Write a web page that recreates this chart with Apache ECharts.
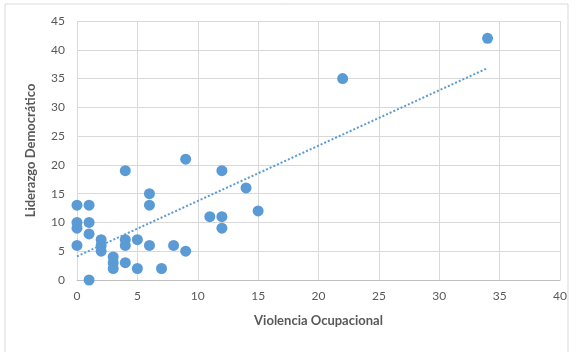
<!DOCTYPE html>
<html>
<head>
<meta charset="utf-8">
<script src="https://cdn.jsdelivr.net/npm/echarts@6/dist/echarts.min.js"></script>
<style>html,body{margin:0;padding:0;background:#fff;}#c{width:577px;height:352px;}</style>
</head>
<body>
<div id="c"></div>
<script>
var xValues = [0,1,0,0,1,1,0,1,2,2,2,3,3,3,4,4,4,4,5,5,6,6,6,7,8,9,9,11,12,12,12,14,15,22,34];
var yValues = [13,13,10,9,10,8,6,0,7,6,5,4,3,2,19,7,6,3,7,2,15,13,6,2,6,21,5,11,19,11,9,16,12,35,42];
var xTicks = [0,5,10,15,20,25,30,35,40];
var yTicks = [0,5,10,15,20,25,30,35,40,45];
var xTitle = 'Violencia Ocupacional';
var yTitle = 'Liderazgo Democrático';

var pts = xValues.map(function(x,i){return [x,yValues[i]];});
var n = xValues.length, sx=0, sy=0, sxx=0, sxy=0;
for (var i=0;i<n;i++){sx+=xValues[i];sy+=yValues[i];sxx+=xValues[i]*xValues[i];sxy+=xValues[i]*yValues[i];}
var slope = (n*sxy - sx*sy)/(n*sxx - sx*sx);
var intercept = (sy - slope*sx)/n;
var xmin = Math.min.apply(null,xValues), xmax = Math.max.apply(null,xValues);
var trend = [[xmin, intercept+slope*xmin],[xmax, intercept+slope*xmax]];

var chart = echarts.init(document.getElementById('c'), null, {renderer:'canvas'});
var font = 'Lato, "Open Sans", sans-serif';
chart.setOption({
  animation:false,
  textStyle:{fontFamily:font},
  graphic:[{type:'rect',shape:{x:5,y:4,width:563,height:360},style:{fill:'none',stroke:'#d9d9d9',lineWidth:1},silent:true}],
  grid:{left:77,right:17,top:21,bottom:72},
  xAxis:{type:'value',min:0,max:40,interval:5,
    name:xTitle,nameLocation:'middle',nameGap:34,
    nameTextStyle:{fontFamily:font,fontSize:13,fontWeight:'bold',color:'#595959'},
    axisLine:{show:true,lineStyle:{color:'#bfbfbf'}},axisTick:{show:false},
    axisLabel:{fontFamily:font,fontSize:12,color:'#595959',margin:10},
    splitLine:{show:true,lineStyle:{color:'#d9d9d9'}}},
  yAxis:{type:'value',min:0,max:45,interval:5,
    name:yTitle,nameLocation:'middle',nameGap:40,nameRotate:90,
    nameTextStyle:{fontFamily:font,fontSize:13,fontWeight:'bold',color:'#595959'},
    axisLine:{show:false},axisTick:{show:false},
    axisLabel:{fontFamily:font,fontSize:12,color:'#595959',margin:12},
    splitLine:{show:true,lineStyle:{color:'#d9d9d9'}}},
  series:[
    {type:'line',data:trend,symbol:'none',z:1,
      lineStyle:{color:'#5B9BD5',width:2,type:[2,2]}},
    {type:'scatter',data:pts,symbol:'circle',symbolSize:11,z:2,
      itemStyle:{color:'#5B9BD5',opacity:1}}
  ]
});
</script>
</body>
</html>
